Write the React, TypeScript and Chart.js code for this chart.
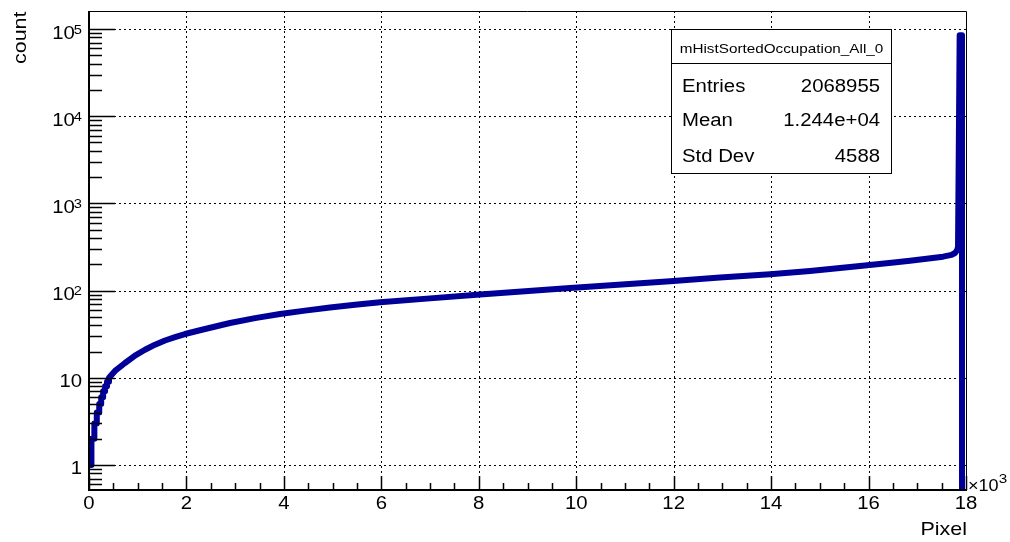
import React, { useEffect, useRef } from 'react';
import { Chart, registerables } from 'chart.js';

Chart.register(...registerables);

// ---------- data ----------
const ZERO_FLOOR = 0.1; // empty bins are drawn at the axis floor (log scale)
const pixelIndex = [
  0, 50, 50, 110, 110, 160, 160, 210, 210, 250, 250, 290, 290, 330, 330, 370, 370, 410, 410,
  534, 739, 944, 1149, 1355, 1560, 1765, 1970, 2175, 2340, 2894, 3407, 3920, 4434, 4947, 5460,
  5973, 7000, 8026, 9873, 11925, 12950, 13978, 14799, 15825, 16519, 16852, 17231, 17529, 17703, 17775,
  17816, 17836, 17870, 17918, 17918,
];
const counts = [
  1, 1, 2, 2, 3, 3, 4, 4, 5, 5, 6, 6, 7, 7, 8, 8, 9, 9, 10,
  12, 14.8, 18, 21, 24, 26.8, 29.3, 31.8, 34, 35.8, 42.5, 48.4, 54, 59, 64, 69,
  73.4, 81.5, 90, 107, 128, 141, 154, 168, 192, 210, 220, 233, 245, 257, 270,
  290, 316, 85000, 85000, ZERO_FLOOR,
];

const xMin = 0;
const xMax = 18000;
const yMin = 0.517;
const yMax = 1.61e5;
const xMajorTicks = [0, 2000, 4000, 6000, 8000, 10000, 12000, 14000, 16000, 18000];
const xTickLabels = ['0', '2', '4', '6', '8', '10', '12', '14', '16', '18'];
const xMinorStep = 500;
const yDecadeExps = [0, 1, 2, 3, 4, 5];

const xTitle = 'Pixel';
const yTitle = 'count';
const xExponent = '3';

const statTitle = 'mHistSortedOccupation_All_0';
const statLabels = ['Entries', 'Mean', 'Std Dev'];
const statValues = ['2068955', '1.244e+04', '4588'];

const LINE_COLOR = '#000099';
const FONT = '"Liberation Sans", Arial, Helvetica, sans-serif';
const SX = 1.13; // horizontal stretch of the reference text

function drawText(
  ctx: CanvasRenderingContext2D,
  s: string,
  x: number,
  y: number,
  size: number,
  align: 'left' | 'right' | 'center' = 'left'
) {
  ctx.save();
  ctx.font = `${size}px ${FONT}`;
  ctx.textBaseline = 'alphabetic';
  ctx.textAlign = 'left';
  const w = ctx.measureText(s).width * SX;
  const x0 = align === 'right' ? x - w : align === 'center' ? x - w / 2 : x;
  ctx.translate(x0, y);
  ctx.scale(SX, 1);
  ctx.fillStyle = '#000';
  ctx.fillText(s, 0, 0);
  ctx.restore();
  return w;
}

function measure(ctx: CanvasRenderingContext2D, s: string, size: number) {
  ctx.save();
  ctx.font = `${size}px ${FONT}`;
  const w = ctx.measureText(s).width * SX;
  ctx.restore();
  return w;
}

const rootPlugin = {
  id: 'rootStyle',
  beforeDatasetsDraw(chart: any) {
    const { ctx, chartArea: a, scales } = chart;
    const xs = scales.x;
    const ys = scales.y;
    ctx.save();
    ctx.strokeStyle = '#000';
    ctx.lineWidth = 1;
    ctx.setLineDash([2, 3]);
    ctx.beginPath();
    for (const v of xMajorTicks) {
      if (v <= xMin || v >= xMax) continue;
      const px = Math.round(xs.getPixelForValue(v)) + 0.5;
      ctx.moveTo(px, a.top);
      ctx.lineTo(px, a.bottom);
    }
    for (const e of yDecadeExps) {
      const py = Math.round(ys.getPixelForValue(Math.pow(10, e))) + 0.5;
      ctx.moveTo(a.left, py);
      ctx.lineTo(a.right, py);
    }
    ctx.stroke();
    ctx.restore();
  },
  afterDraw(chart: any) {
    const { ctx, chartArea: a, scales } = chart;
    const xs = scales.x;
    const ys = scales.y;
    ctx.save();
    ctx.setLineDash([]);
    ctx.strokeStyle = '#000';

    // frame (top/right thin)
    ctx.lineWidth = 1;
    ctx.beginPath();
    ctx.moveTo(a.left, a.top + 0.5);
    ctx.lineTo(a.right + 0.5, a.top + 0.5);
    ctx.lineTo(a.right + 0.5, a.bottom);
    ctx.stroke();

    // axes (left/bottom thick)
    ctx.lineWidth = 2;
    ctx.beginPath();
    ctx.moveTo(a.left, a.top);
    ctx.lineTo(a.left, a.bottom + 1);
    ctx.moveTo(a.left - 1, a.bottom);
    ctx.lineTo(a.right + 1, a.bottom);
    ctx.stroke();

    // x ticks
    ctx.lineWidth = 1.5;
    ctx.beginPath();
    for (let v = xMin; v <= xMax; v += xMinorStep) {
      const major = v % 2000 === 0;
      const px = Math.round(xs.getPixelForValue(v)) + 0.5;
      ctx.moveTo(px, a.bottom);
      ctx.lineTo(px, a.bottom - (major ? 14 : 7));
    }
    // y ticks
    for (let e = -1; e <= 5; e++) {
      for (let m = 1; m <= 9; m++) {
        const v = m * Math.pow(10, e);
        if (v < yMin || v > yMax) continue;
        const py = Math.round(ys.getPixelForValue(v)) + 0.5;
        ctx.moveTo(a.left, py);
        ctx.lineTo(a.left + (m === 1 ? 26 : 13), py);
      }
    }
    ctx.stroke();

    // x tick labels
    xMajorTicks.forEach((v, i) => {
      const px = xs.getPixelForValue(v);
      drawText(ctx, xTickLabels[i], px, 509, 18, 'center');
    });

    // y tick labels
    const labRight = 82;
    for (const e of yDecadeExps) {
      const py = ys.getPixelForValue(Math.pow(10, e));
      if (e === 0) {
        drawText(ctx, '1', labRight, py + 9, 18, 'right');
      } else if (e === 1) {
        drawText(ctx, '10', labRight, py + 9.5, 18, 'right');
      } else {
        const sup = String(e);
        const ws = measure(ctx, sup, 13);
        drawText(ctx, sup, labRight, py + 4.5, 13, 'right');
        drawText(ctx, '10', labRight - ws + 1, py + 9.5, 18, 'right');
      }
    }

    // x exponent
    const wx = drawText(ctx, '\u00d710', 968, 490.5, 16, 'left');
    drawText(ctx, xExponent, 968 + wx, 483, 13.5, 'left');

    // axis titles
    drawText(ctx, xTitle, a.right + 1, 535, 19, 'right');
    ctx.save();
    ctx.translate(26, 11.5);
    ctx.rotate(-Math.PI / 2);
    drawText(ctx, yTitle, 0, 0, 19, 'right');
    ctx.restore();

    // stat box
    const bx = 671.5, by = 29.5, bw = 220, bh = 144;
    ctx.fillStyle = '#fff';
    ctx.fillRect(bx, by, bw, bh);
    ctx.lineWidth = 1;
    ctx.strokeStyle = '#000';
    ctx.strokeRect(bx, by, bw, bh);
    ctx.beginPath();
    ctx.moveTo(bx, 63.5);
    ctx.lineTo(bx + bw, 63.5);
    ctx.stroke();
    drawText(ctx, statTitle, bx + bw / 2, 52.5, 13.5, 'center');
    const rowsY = [91.5, 125.5, 161.5];
    statLabels.forEach((lab, i) => {
      drawText(ctx, lab, 682, rowsY[i], 18, 'left');
      drawText(ctx, statValues[i], 880, rowsY[i], 18, 'right');
    });

    ctx.restore();
  },
};

export default function App() {
  const ref = useRef<HTMLCanvasElement | null>(null);
  useEffect(() => {
    if (!ref.current) return;
    const points = pixelIndex.map((x, i) => ({ x, y: counts[i] }));
    const chart = new Chart(ref.current, {
      type: 'line',
      data: {
        datasets: [
          {
            data: points,
            borderColor: LINE_COLOR,
            borderWidth: 6,
            pointRadius: 0,
            fill: false,
            tension: 0,
            borderCapStyle: 'butt',
            borderJoinStyle: 'round',
            clip: 0,
          } as any,
        ],
      },
      options: {
        animation: false,
        responsive: false,
        maintainAspectRatio: false,
        parsing: false as any,
        layout: { padding: { left: 89, top: 11, right: 44, bottom: 52 } },
        plugins: { legend: { display: false }, tooltip: { enabled: false } },
        scales: {
          x: { type: 'linear', min: xMin, max: xMax, display: false },
          y: { type: 'logarithmic', min: yMin, max: yMax, display: false },
        },
      },
      plugins: [rootPlugin],
    });
    return () => chart.destroy();
  }, []);
  return (
    <div style={{ position: 'fixed', left: 0, top: 0, width: 1010, height: 542, background: '#fff' }}>
      <canvas ref={ref} width={1010} height={542} style={{ display: 'block' }} />
    </div>
  );
}
